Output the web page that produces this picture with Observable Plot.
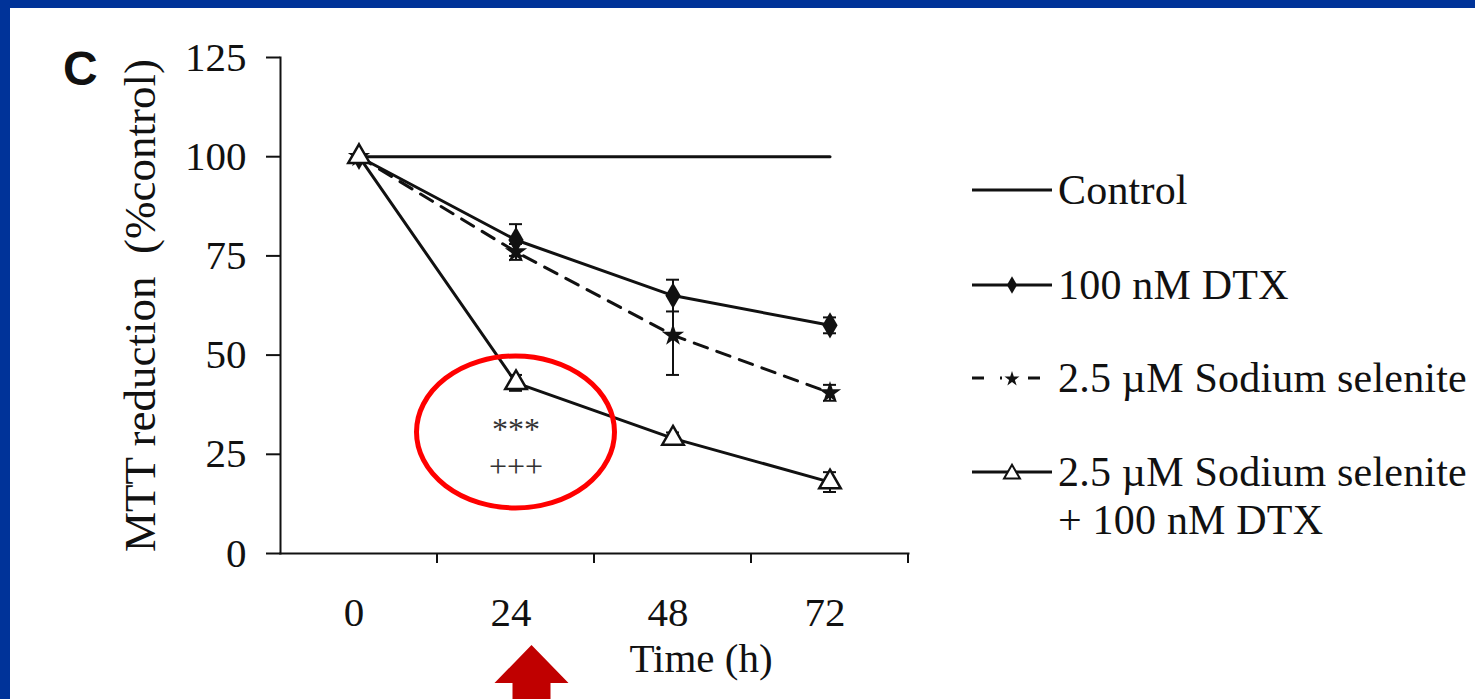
<!DOCTYPE html>
<html><head><meta charset="utf-8">
<script src="https://cdn.jsdelivr.net/npm/d3@7"></script>
<script src="https://cdn.jsdelivr.net/npm/@observablehq/plot@0.6"></script>
<style>
html,body{margin:0;padding:0;width:1475px;height:699px;overflow:hidden;background:#003399;}
#page{position:absolute;left:10px;top:8px;width:1465px;height:691px;background:#fff;}
#chart{position:absolute;left:0;top:0;}
.row{position:absolute;left:972px;display:flex;align-items:center;height:50px;font-family:"Liberation Serif",serif;font-size:42px;letter-spacing:0.2px;color:#111;white-space:nowrap;}
.row svg{display:block;margin-right:6px;}
.sub{position:absolute;left:1058px;font-family:"Liberation Serif",serif;font-size:42px;letter-spacing:0.2px;color:#111;white-space:nowrap;line-height:50px;}
#panel{position:absolute;left:63px;top:41px;font-family:"Liberation Sans",Arial,sans-serif;font-weight:bold;font-size:48px;color:#111;}
</style>
</head><body>
<div id="page"></div>
<div id="chart"></div>
<div id="panel">C</div>
<div id="legend"></div>
<script>
const times = ["0", "24", "48", "72"];
const controlVals = [100, 100, 100, 100];
const dtxVals = [100, 79, 65, 57.5];
const dtxErr = [0, 4, 4, 2];
const selVals = [100, 76, 55, 40.5];
const selErr = [0, 2, 10, 2];
const comboVals = [100, 43, 29, 18];
const comboErr = [0, 2, 1.5, 2.5];
const yTicks = [0, 25, 50, 75, 100, 125];
const seriesNames = ["Control", "100 nM DTX", "2.5 µM Sodium selenite", "2.5 µM Sodium selenite", "+ 100 nM DTX"];
const yTitle = "MTT reduction  (%control)";
const xTitle = "Time (h)";
const sigMarks = "***\n+++";

const rows = (vals, errs) => times.map((t, i) => ({t, v: vals[i], e: errs ? errs[i] : 0}));
const control = rows(controlVals);
const dtx = rows(dtxVals, dtxErr);
const sel = rows(selVals, selErr);
const combo = rows(comboVals, comboErr);
const withErr = [...dtx, ...sel, ...combo].filter(d => d.e > 0);

const ink = "#111";

const xTicksMark = (index, scales) => {
  const x = scales.x, y = scales.y;
  const step = x(times[1]) - x(times[0]);
  const g = d3.create("svg:g").attr("stroke", ink).attr("stroke-width", 2);
  const y0 = y(0);
  const bounds = times.slice(1).map(t => x(t)).concat([x(times[times.length - 1]) + step]);
  for (const bx of bounds) g.append("line").attr("x1", bx).attr("x2", bx).attr("y1", y0).attr("y2", y0 + 10);
  return g.node();
};

const ellipseMark = (index, scales) => {
  const x = scales.x, y = scales.y;
  const step = x(times[1]) - x(times[0]);
  const cx = x("24") + step / 2;
  const cy = y(30.5);
  return d3.create("svg:ellipse").attr("cx", cx).attr("cy", cy).attr("rx", 99).attr("ry", 76)
    .attr("fill", "none").attr("stroke", "#ff0000").attr("stroke-width", 5).node();
};

const arrowMark = (index, scales) => {
  const x = scales.x, y = scales.y;
  const step = x(times[1]) - x(times[0]);
  const cx = x("24") + step / 2 + 16;
  const tip = y(0) + 92;
  const pts = [[cx, tip], [cx + 37, tip + 38], [cx + 19, tip + 38], [cx + 19, tip + 70], [cx - 19, tip + 70], [cx - 19, tip + 38], [cx - 37, tip + 38]];
  return d3.create("svg:path").attr("d", "M" + pts.join("L") + "Z").attr("fill", "#c00000").node();
};

const lineOpts = {x: "t", y: "v", stroke: ink, strokeWidth: 3};

const chart = Plot.plot({
  width: 1475,
  height: 699,
  marginLeft: 280,
  marginRight: 567,
  marginTop: 57,
  marginBottom: 146,
  style: {fontFamily: "Liberation Serif, serif", fontSize: "40px", color: ink, background: "transparent", overflow: "visible"},
  x: {type: "band", domain: times, padding: 0},
  y: {domain: [0, 125]},
  marks: [
    Plot.frame({anchor: "left", stroke: ink, strokeWidth: 2}),
    Plot.frame({anchor: "bottom", stroke: ink, strokeWidth: 2}),
    Plot.axisY({ticks: yTicks, tickSize: 14, tickPadding: 20, label: null, strokeWidth: 2, fontSize: 41}),
    Plot.axisX({tickSize: 0, tickPadding: 43, label: null, dx: -5, fontSize: 41}),
    xTicksMark,
    Plot.text([yTitle], {frameAnchor: "left", textAnchor: "middle", lineAnchor: "middle", rotate: -90, dx: -140, fontSize: 45, fill: ink}),
    Plot.text([xTitle], {x: () => "48", frameAnchor: "bottom", dy: 118, dx: 28, fontSize: 41, fill: ink}),
    Plot.line(control, lineOpts),
    Plot.line(dtx, lineOpts),
    Plot.line(sel, {...lineOpts, strokeDasharray: "14,10"}),
    Plot.line(combo, lineOpts),
    Plot.ruleX(withErr, {x: "t", y1: d => d.v - d.e, y2: d => d.v + d.e, stroke: ink, strokeWidth: 2}),
    Plot.tickY(withErr, {x: "t", y: d => d.v + d.e, stroke: ink, strokeWidth: 2, inset: 72}),
    Plot.tickY(withErr, {x: "t", y: d => d.v - d.e, stroke: ink, strokeWidth: 2, inset: 72}),
    Plot.dot(dtx, {x: "t", y: "v", symbol: "diamond", r: 8, fill: ink}),
    Plot.dot(sel, {x: "t", y: "v", symbol: "star", r: 7, fill: ink}),
    Plot.dot(combo, {x: "t", y: "v", symbol: "triangle", r: 8, fill: "white", stroke: ink, strokeWidth: 2.5}),
    Plot.text([sigMarks], {x: () => "24", y: () => 27, fontSize: 32, lineHeight: 1.15, fill: "#333"}),
    ellipseMark,
    arrowMark
  ]
});
document.getElementById("chart").appendChild(chart);

// legend
const legend = document.getElementById("legend");
const legendItems = [
  {name: seriesNames[0], cy: 190, dash: null, sym: null},
  {name: seriesNames[1], cy: 285, dash: null, sym: "diamond"},
  {name: seriesNames[2], cy: 378, dash: "12,16", sym: "star"},
  {name: seriesNames[3], cy: 472, dash: null, sym: "triangle"}
];
for (const it of legendItems) {
  const row = document.createElement("div");
  row.className = "row";
  row.style.top = (it.cy - 25) + "px";
  const svg = d3.create("svg").attr("width", 80).attr("height", 50);
  svg.append("line").attr("x1", 0).attr("x2", 80).attr("y1", 25).attr("y2", 25)
    .attr("stroke", ink).attr("stroke-width", 3).attr("stroke-dasharray", it.dash);
  if (it.sym === "diamond") svg.append("path").attr("d", d3.symbol(d3.symbolDiamond, 90)()).attr("transform", "translate(40,25)").attr("fill", ink);
  if (it.sym === "star") {
    svg.append("rect").attr("x", 30).attr("y", 18).attr("width", 20).attr("height", 14).attr("fill", "white");
    svg.append("path").attr("d", d3.symbol(d3.symbolStar, 70)()).attr("transform", "translate(40,26)").attr("fill", ink);
  }
  if (it.sym === "triangle") svg.append("path").attr("d", d3.symbol(d3.symbolTriangle, 110)()).attr("transform", "translate(40,27)").attr("fill", "white").attr("stroke", ink).attr("stroke-width", 2);
  row.appendChild(svg.node());
  const span = document.createElement("span");
  span.textContent = it.name;
  row.appendChild(span);
  legend.appendChild(row);
}
const sub = document.createElement("div");
sub.className = "sub";
sub.style.top = (520 - 25) + "px";
sub.textContent = seriesNames[4];
legend.appendChild(sub);
</script>
</body></html>
